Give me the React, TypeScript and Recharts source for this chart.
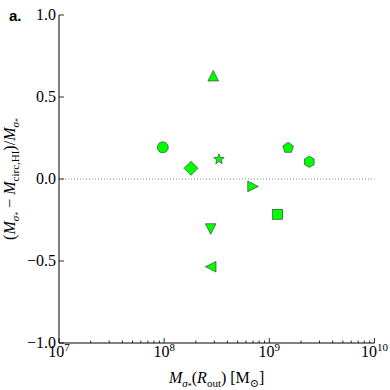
import { ScatterChart, Scatter, XAxis, YAxis, ReferenceLine } from "recharts";

// galaxy markers
const markers = [
  "circle",
  "diamond",
  "triangleUp",
  "star",
  "pentagon",
  "hexagon",
  "triangleRight",
  "square",
  "triangleDown",
  "triangleLeft",
];
const massValues = [9.7e7, 1.8e8, 2.93e8, 3.32e8, 1.51e9, 2.4e9, 7.0e8, 1.2e9, 2.77e8, 2.77e8];
const diffValues = [0.193, 0.065, 0.63, 0.12, 0.19, 0.105, -0.045, -0.215, -0.305, -0.535];

const xMajorTicks = [1e7, 1e8, 1e9, 1e10];
const xMinorTicks = [1e7, 1e8, 1e9].flatMap((d) => [2, 3, 4, 5, 6, 7, 8, 9].map((m) => m * d));
const yTicks = [-1, -0.5, 0, 0.5, 1];
const yTickLabels = ["\u22121.0", "\u22120.5", "0.0", "0.5", "1.0"];

const points = massValues.map((x, i) => ({ x, y: diffValues[i], marker: markers[i] }));

const FONT = "'Liberation Serif', 'DejaVu Serif', serif";
const FILL = "#00ff00";
const EDGE = "#2b2b2b";

const poly = (cx: number, cy: number, n: number, r: number, rot = -90) =>
  Array.from({ length: n }, (_, k) => {
    const a = ((rot + (360 / n) * k) * Math.PI) / 180;
    return `${cx + r * Math.cos(a)},${cy + r * Math.sin(a)}`;
  }).join(" ");

const star = (cx: number, cy: number, ro: number, ri: number) =>
  Array.from({ length: 10 }, (_, k) => {
    const a = ((-90 + 36 * k) * Math.PI) / 180;
    const r = k % 2 === 0 ? ro : ri;
    return `${cx + r * Math.cos(a)},${cy + r * Math.sin(a)}`;
  }).join(" ");

const renderMarker = (props: any) => {
  const { cx, cy, payload } = props;
  const common = { fill: FILL, stroke: EDGE, strokeWidth: 0.6 };
  const s = 5.3;
  switch (payload.marker) {
    case "circle":
      return <circle cx={cx} cy={cy} r={5.5} {...common} />;
    case "diamond":
      return <polygon points={`${cx},${cy - 7} ${cx + 7},${cy} ${cx},${cy + 7} ${cx - 7},${cy}`} {...common} />;
    case "triangleUp":
      return <polygon points={`${cx},${cy - s} ${cx + s},${cy + s} ${cx - s},${cy + s}`} {...common} />;
    case "triangleDown":
      return <polygon points={`${cx},${cy + s} ${cx + s},${cy - s} ${cx - s},${cy - s}`} {...common} />;
    case "triangleRight":
      return <polygon points={`${cx + s},${cy} ${cx - s},${cy - s} ${cx - s},${cy + s}`} {...common} />;
    case "triangleLeft":
      return <polygon points={`${cx - s},${cy} ${cx + s},${cy - s} ${cx + s},${cy + s}`} {...common} />;
    case "square":
      return <rect x={cx - 5} y={cy - 5} width={10} height={10} {...common} />;
    case "star":
      return <polygon points={star(cx, cy, 5.5, 2.3)} {...common} />;
    case "pentagon":
      return <polygon points={poly(cx, cy, 5, 5.6)} {...common} />;
    case "hexagon":
      return <polygon points={poly(cx, cy, 6, 5.6)} {...common} />;
    default:
      return null;
  }
};

const isMajor = (v: number) => xMajorTicks.some((m) => Math.abs(m - v) / m < 1e-9);

const XTickBottom = ({ x, y, payload }: any) => {
  const major = isMajor(payload.value);
  const exp = Math.round(Math.log10(payload.value));
  return (
    <g>
      <line x1={x} x2={x} y1={y} y2={y - (major ? 5 : 2.5)} stroke="#000" strokeWidth={0.8} />
      {major && (
        <text x={x} y={y + 14} textAnchor="middle" fontFamily={FONT} fontSize={16} fill="#000">
          10
          <tspan dy={-6} fontSize={11}>
            {exp}
          </tspan>
        </text>
      )}
    </g>
  );
};

const XTickTop = ({ x, y, payload }: any) => {
  const major = isMajor(payload.value);
  return <line x1={x} x2={x} y1={y} y2={y + (major ? 5 : 2.5)} stroke="#000" strokeWidth={0.8} />;
};

const YTickLeft = ({ x, y, payload }: any) => {
  const idx = yTicks.indexOf(payload.value);
  return (
    <g>
      <line x1={x} x2={x + 5} y1={y} y2={y} stroke="#000" strokeWidth={0.8} />
      <text x={x - 3} y={y + 5} textAnchor="end" fontFamily={FONT} fontSize={16} fill="#000">
        {yTickLabels[idx]}
      </text>
    </g>
  );
};

const YTickRight = ({ x, y }: any) => <line x1={x} x2={x - 5} y1={y} y2={y} stroke="#000" strokeWidth={0.8} />;

export default function App() {
  return (
    <div style={{ position: "absolute", left: 0, top: 0, width: 390, height: 390, background: "#fff" }}>
      <ScatterChart width={390} height={390} margin={{ top: 15, right: 15.5, bottom: 0, left: 0 }}>
        <XAxis
          dataKey="x"
          type="number"
          scale="log"
          domain={[1e7, 1e10]}
          ticks={[...xMajorTicks, ...xMinorTicks]}
          interval={0}
          height={47}
          tickSize={0}
          tickMargin={0}
          tickLine={false}
          axisLine={{ stroke: "#000", strokeWidth: 1 }}
          tick={<XTickBottom />}
          allowDataOverflow
        />
        <XAxis
          xAxisId="top"
          orientation="top"
          type="number"
          scale="log"
          domain={[1e7, 1e10]}
          ticks={[...xMajorTicks, ...xMinorTicks]}
          interval={0}
          height={0}
          tickSize={0}
          tickMargin={0}
          tickLine={false}
          axisLine={{ stroke: "#000", strokeWidth: 1 }}
          tick={<XTickTop />}
          allowDataOverflow
        />
        <YAxis
          dataKey="y"
          type="number"
          domain={[-1, 1]}
          ticks={yTicks}
          interval={0}
          width={59}
          tickSize={0}
          tickMargin={0}
          tickLine={false}
          axisLine={{ stroke: "#000", strokeWidth: 1 }}
          tick={<YTickLeft />}
          allowDataOverflow
        />
        <YAxis
          yAxisId="right"
          orientation="right"
          type="number"
          domain={[-1, 1]}
          ticks={yTicks}
          interval={0}
          width={0}
          tickSize={0}
          tickMargin={0}
          tickLine={false}
          axisLine={{ stroke: "#000", strokeWidth: 1 }}
          tick={<YTickRight />}
          allowDataOverflow
        />
        <ReferenceLine y={0} stroke="#666" strokeWidth={0.8} strokeDasharray="1 2" />
        <Scatter data={points} shape={renderMarker} isAnimationActive={false} />

        {/* axis labels */}
        <text x={216.7} y={383} textAnchor="middle" fontFamily={FONT} fontSize={16} fill="#000">
          <tspan fontStyle="italic">M</tspan>
          <tspan dy={4} fontSize={11} fontStyle="italic">σ</tspan>
          <tspan dy={2} fontSize={8}>*</tspan>
          <tspan dy={-6}>(</tspan>
          <tspan fontStyle="italic">R</tspan>
          <tspan dy={4} fontSize={11}>out</tspan>
          <tspan dy={-4}>) [M</tspan>
          <tspan dy={4} fontSize={11}>⊙</tspan>
          <tspan dy={-4}>]</tspan>
        </text>
        <text
          x={0}
          y={0}
          transform="translate(15,179) rotate(-90)"
          textAnchor="middle"
          fontFamily={FONT}
          fontSize={16}
          fill="#000"
        >
          <tspan>(</tspan>
          <tspan fontStyle="italic">M</tspan>
          <tspan dy={4} fontSize={11} fontStyle="italic">σ</tspan>
          <tspan dy={2} fontSize={8}>*</tspan>
          <tspan dy={-6}> − </tspan>
          <tspan fontStyle="italic">M</tspan>
          <tspan dy={4} fontSize={11}>circ,HI</tspan>
          <tspan dy={-4}>)/</tspan>
          <tspan fontStyle="italic">M</tspan>
          <tspan dy={4} fontSize={11} fontStyle="italic">σ</tspan>
          <tspan dy={2} fontSize={8}>*</tspan>
        </text>
        <text x={9} y={21} fontFamily="'Liberation Sans', Arial, sans-serif" fontWeight="bold" fontSize={15} fill="#000">
          a.
        </text>
      </ScatterChart>
    </div>
  );
}
